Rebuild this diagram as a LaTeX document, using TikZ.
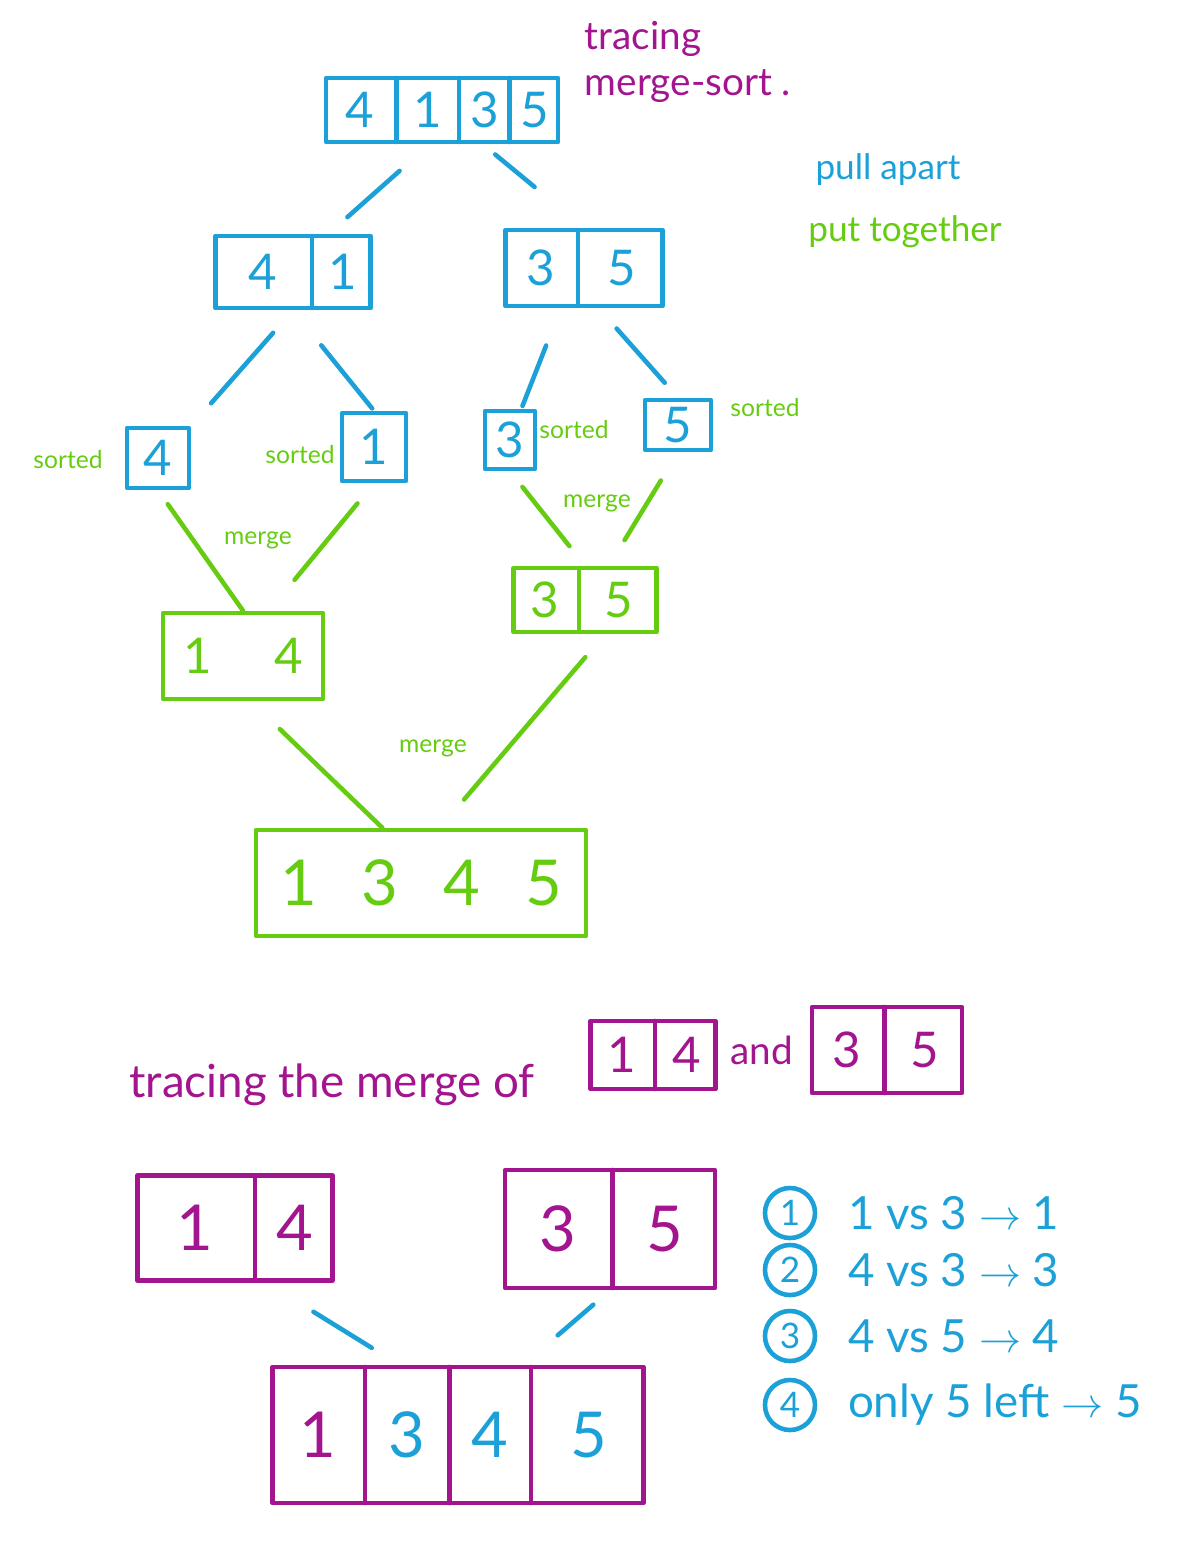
\documentclass[tikz,border=0pt]{standalone}
\usepackage{fontspec}
\setmainfont{Lato}
\usetikzlibrary{shapes.multipart,positioning}
\definecolor{penblue}{HTML}{1BA1D8}
\definecolor{pengreen}{HTML}{66CC11}
\definecolor{penpurple}{HTML}{A3148F}
\newcommand{\cellbox}[3]{\parbox[c][#2][c]{#1}{\centering #3}}

\begin{document}
\begin{tikzpicture}[x=0.01cm,y=-0.01cm,line cap=round,line join=round,
  pen/.style={line width=1.3pt},
  arr/.style={pen,draw,rectangle split,rectangle split horizontal,rectangle split parts=#1,inner sep=0pt},
  arr/.default=2,
  box/.style={pen,draw,inner sep=0pt},
  blueink/.style={draw=penblue,text=penblue},
  greenink/.style={draw=pengreen,text=pengreen},
  purpleink/.style={draw=penpurple,text=penpurple},
  digits/.style={font=\fontsize{14}{17}\selectfont},
  bigdigits/.style={font=\fontsize{18}{21}\selectfont},
  note/.style={font=\fontsize{7}{9}\selectfont},
  stepnum/.style={pen,draw=penblue,text=penblue,circle,inner sep=0pt,minimum size=.5cm,font=\fontsize{10}{12}\selectfont},
  steptext/.style={text=penblue,inner sep=0pt,font=\fontsize{13}{15}\selectfont}]
  \useasboundingbox (0,0) rectangle (1202,1562);

  % pulling the array apart
  \node[arr=4,blueink,digits] (full) at (442,110)
    {\cellbox{.68cm}{.64cm}{4}\nodepart{two}\cellbox{.58cm}{.64cm}{1}\nodepart{three}\cellbox{.46cm}{.64cm}{3}\nodepart{four}\cellbox{.46cm}{.64cm}{5}};
  \node[text=penpurple,align=left,font=\fontsize{11}{13}\selectfont] (title) at (688,62) {tracing\\merge-sort .};
  \node[text=penblue,font=\fontsize{10}{12}\selectfont] (pull) at (888,170) {pull apart};
  \node[text=pengreen,font=\fontsize{10}{12}\selectfont] (put) at (905,232) {put together};

  \node[arr,blueink,digits] (left2) at (293,272)
    {\cellbox{.94cm}{.72cm}{4}\nodepart{two}\cellbox{.56cm}{.72cm}{1}};
  \node[arr,blueink,digits] (right2) at (584,268)
    {\cellbox{.70cm}{.76cm}{3}\nodepart{two}\cellbox{.82cm}{.76cm}{5}};

  \node[box,blueink,digits,minimum width=.62cm,minimum height=.60cm] (one4) at (158,458) {4};
  \node[box,blueink,digits,minimum width=.64cm,minimum height=.68cm] (one1) at (374,447) {1};
  \node[box,blueink,digits,minimum width=.50cm,minimum height=.58cm] (one3) at (510,440) {3};
  \node[box,blueink,digits,minimum width=.66cm,minimum height=.50cm] (one5) at (678,425) {5};
  \node[note,text=pengreen] (srt4) at (68,460) {sorted};
  \node[note,text=pengreen] (srt1) at (300,455) {sorted};
  \node[note,text=pengreen] (srt3) at (574,430) {sorted};
  \node[note,text=pengreen] (srt5) at (765,408) {sorted};

  \draw[pen,penblue,shorten <=.4cm,shorten >=.25cm] (full.-110) -- (left2.47);
  \draw[pen,penblue,shorten <=.16cm,shorten >=.64cm] (full.-40) -- (right2.north);
  \draw[pen,penblue,shorten <=.3cm,shorten >=.3cm] (left2.south) -- (one4.north east);
  \draw[pen,penblue,shorten <=.45cm,shorten >=.03cm] (left2.south) -- (one1.north);
  \draw[pen,penblue,shorten <=.4cm,shorten >=.03cm] (right2.-120) -- (one3.70);
  \draw[pen,penblue,shorten <=.27cm,shorten >=.2cm] (right2.-70) -- (one5.north);

  % putting it back together
  \node[box,greenink,digits,minimum width=1.6cm,minimum height=.86cm] (low14) at (243,656) {1\hspace{.62cm}4};
  \node[arr,greenink,digits] (low35) at (585,600)
    {\cellbox{.63cm}{.64cm}{3}\nodepart{two}\cellbox{.75cm}{.64cm}{5}};
  \node[box,greenink,bigdigits,minimum width=3.3cm,minimum height=1.06cm] (final) at (421,883)
    {1\hspace{.45cm}3\hspace{.45cm}4\hspace{.45cm}5};
  \node[note,text=pengreen] (mrgL) at (258,540) {merge};
  \node[note,text=pengreen] (mrgR) at (597,503) {merge};
  \node[note,text=pengreen] (mrgB) at (433,748) {merge};

  \draw[pen,pengreen,shorten <=.17cm] (one4.south) -- (low14.north);
  \draw[pen,pengreen,shorten <=.26cm,shorten >=.4cm] (one1.south) -- (low14.60);
  \draw[pen,pengreen,shorten <=.2cm,shorten >=.25cm] (one3.south) -- (low35.north);
  \draw[pen,pengreen,shorten <=.33cm,shorten >=.3cm] (one5.south) -- (low35.55);
  \draw[pen,pengreen,shorten <=.4cm] (low14.-80) -- (final.125);
  \draw[pen,pengreen,shorten <=.3cm,shorten >=.37cm] (low35.-60) -- (final.71);

  % tracing one merge
  \node[text=penpurple,font=\fontsize{13}{15}\selectfont] (trace) at (332,1085) {tracing the merge of};
  \node[arr,purpleink,digits] (sm14) at (653,1055)
    {\cellbox{.62cm}{.68cm}{1}\nodepart{two}\cellbox{.58cm}{.68cm}{4}};
  \node[text=penpurple,font=\fontsize{11}{13}\selectfont] (andw) at (762,1050) {and};
  \node[arr,purpleink,digits] (sm35) at (887,1050)
    {\cellbox{.70cm}{.86cm}{3}\nodepart{two}\cellbox{.75cm}{.86cm}{5}};

  \node[arr,purpleink,bigdigits] (half14) at (235,1228)
    {\cellbox{1.15cm}{1.05cm}{1}\nodepart{two}\cellbox{.75cm}{1.05cm}{4}};
  \node[arr,purpleink,bigdigits] (half35) at (610,1229)
    {\cellbox{1.05cm}{1.18cm}{3}\nodepart{two}\cellbox{1.0cm}{1.18cm}{5}};
  \node[arr=4,draw=penpurple,text=penblue,bigdigits] (result) at (458,1435)
    {\cellbox{.9cm}{1.36cm}{\textcolor{penpurple}{1}}\nodepart{two}\cellbox{.8cm}{1.36cm}{3}\nodepart{three}\cellbox{.77cm}{1.36cm}{4}\nodepart{four}\cellbox{1.1cm}{1.36cm}{5}};

  \draw[pen,penblue,shorten <=.32cm,shorten >=.55cm] (result.130) -- (half14.-60);
  \draw[pen,penblue,shorten <=.45cm,shorten >=.22cm] (result.47) -- (half35.south);

  \foreach \i/\y/\txt in {1/1213/{1 vs 3 $\rightarrow$ 1},2/1270/{4 vs 3 $\rightarrow$ 3},
                          3/1336/{4 vs 5 $\rightarrow$ 4},4/1405/{only 5 left $\rightarrow$ 5}}{
    \node[stepnum] (c\i) at (790,\y) {\i};
    \node[steptext,right=.3cm of c\i] (st\i) {\txt};
  }
\end{tikzpicture}
\end{document}
